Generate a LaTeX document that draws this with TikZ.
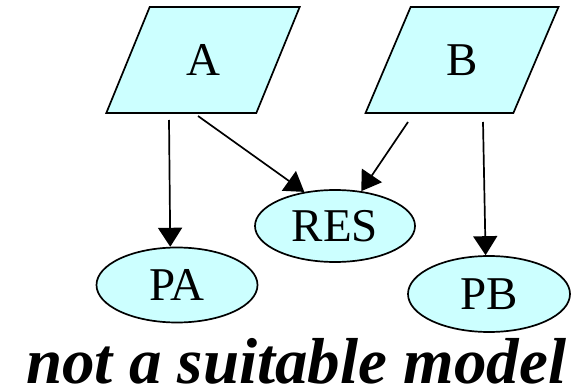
\documentclass[tikz,border=0pt]{standalone}
\usepackage{fontspec}
\setmainfont{Liberation Serif}
\usetikzlibrary{shapes.geometric, arrows.meta}
\definecolor{nodecyan}{RGB}{204,255,255}

\begin{document}
\begin{tikzpicture}[
  x=1pt, y=1pt,
  inbox/.style={draw, line width=1.7pt, fill=nodecyan, trapezium, trapezium left angle=66, trapezium right angle=114, trapezium stretches=true, minimum width=194pt, minimum height=106pt, inner sep=0pt, font=\fontsize{47}{50}\selectfont},
  outbox/.style={draw, line width=1.7pt, fill=nodecyan, ellipse, inner sep=0pt, font=\fontsize{47}{50}\selectfont},
  arr/.style={line width=1.7pt, -{Triangle[length=19pt,width=24pt]}}
]
\useasboundingbox (0,0) rectangle (577,391);

% inputs
\node[inbox] (A) at (203,331) {A};
\node[inbox] (B) at (462,331) {B};

% outputs
\node[outbox, minimum width=160pt, minimum height=72pt] (RES) at (335,165) {RES};
\node[outbox, minimum width=161pt, minimum height=75pt] (PA) at (177,106) {PA};
\node[outbox, minimum width=162pt, minimum height=76pt] (PB) at (489,97) {PB};

% edges
\draw[arr] ([shift={(-34,-60)}]A.center) -- (PA.100);
\draw[arr] ([shift={(-5,-56)}]A.center) -- (RES.132);
\draw[arr] ([shift={(-54,-62)}]B.center) -- (RES.53);
\draw[arr] ([shift={(21,-62)}]B.center) -- (PB.95);

% caption
\node[anchor=base west, inner sep=0pt, font=\fontsize{65}{68}\selectfont\bfseries\itshape] (cap) at (26,8) {not a suitable model};

\end{tikzpicture}
\end{document}
